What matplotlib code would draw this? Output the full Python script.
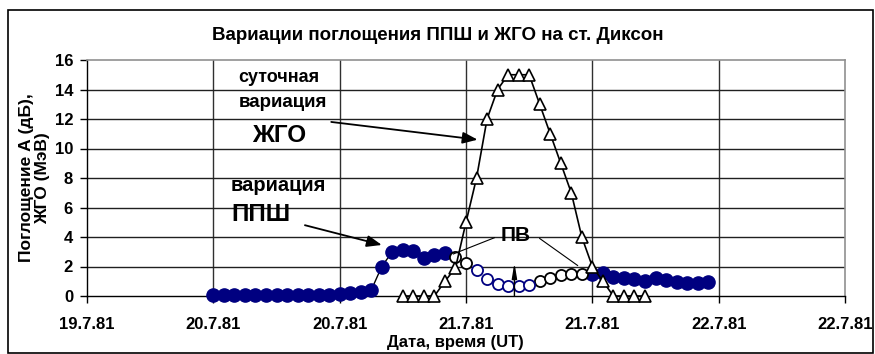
import numpy as np
import matplotlib
matplotlib.use('Agg')
import matplotlib.pyplot as plt
from matplotlib.patches import Rectangle

plt.rcParams['font.family'] = ['Liberation Sans', 'DejaVu Sans']
plt.rcParams['font.weight'] = 'bold'

# x = hours since 19.7.81 12:00 UT
tick_hours = [0, 12, 24, 36, 48, 60, 72]
tick_labels = ['19.7.81', '20.7.81', '20.7.81', '21.7.81', '21.7.81', '22.7.81', '22.7.81']

# absorption (ППШ), filled points
ppsh_hours_1 = list(range(12, 35))
ppsh_vals_1 = [0.1, 0.1, 0.1, 0.1, 0.1, 0.1, 0.1, 0.1, 0.1, 0.1, 0.1, 0.1, 0.15,
               0.2, 0.3, 0.4, 2.0, 3.0, 3.1, 3.05, 2.55, 2.8, 2.9]
ppsh_hours_2 = list(range(48, 60))
ppsh_vals_2 = [1.5, 1.55, 1.3, 1.25, 1.15, 1.05, 1.2, 1.1, 0.95, 0.85, 0.9, 0.95]

# absorption during ПВ, open points
pv_black_hours = [35, 36, 43, 44, 45, 46, 47]
pv_black_vals = [2.65, 2.25, 1.05, 1.25, 1.4, 1.5, 1.5]
pv_blue_hours = [37, 38, 39, 40, 41, 42]
pv_blue_vals = [1.75, 1.15, 0.8, 0.65, 0.65, 0.75]

# daily variation of ЖГО
zgo_hours = list(range(30, 54))
zgo_vals = [0, 0, 0, 0, 1.0, 1.9, 5.0, 8.0, 12.0, 14.0, 15.0, 15.0, 15.0,
            13.0, 11.0, 9.0, 7.0, 4.0, 2.0, 1.0, 0, 0, 0, 0]

navy = '#000080'

fig = plt.figure(figsize=(8.75, 3.54), dpi=100)
ax = fig.add_axes([87 / 875, 1 - 296 / 354, (845 - 87) / 875, (296 - 60) / 354])

fig.patches.append(Rectangle((8 / 875, 1 / 354), 865 / 875, 343 / 354,
                             transform=fig.transFigure, fill=False,
                             edgecolor='black', linewidth=1.2))

ax.set_xlim(0, 72)
ax.set_ylim(0, 16)
ax.set_xticks(tick_hours)
ax.set_xticklabels(tick_labels)
ax.set_yticks(range(0, 17, 2))

for h in tick_hours[1:-1]:
    ax.axvline(h, color='#303030', linewidth=1, zorder=1)
for v in range(2, 16, 2):
    ax.axhline(v, color='#202020', linewidth=1, zorder=1)

for s in ['top', 'right']:
    ax.spines[s].set_color('#909090')
    ax.spines[s].set_linewidth(1.2)
for s in ['left', 'bottom']:
    ax.spines[s].set_linewidth(1)

ax.tick_params(axis='both', direction='out', length=5, width=1, labelsize=12)
ax.tick_params(axis='y', pad=5)
ax.tick_params(axis='x', pad=10)

ax.plot(ppsh_hours_1, ppsh_vals_1, color='black', linewidth=1, marker='o', ms=9.5,
        mfc=navy, mec=navy, zorder=3, clip_on=False)
ax.plot(ppsh_hours_2, ppsh_vals_2, color='black', linewidth=1, marker='o', ms=9.5,
        mfc=navy, mec=navy, zorder=3, clip_on=False)
ax.plot(pv_black_hours, pv_black_vals, linestyle='none', marker='o', ms=8,
        mfc='white', mec='black', mew=1.3, zorder=3)
ax.plot(pv_blue_hours, pv_blue_vals, linestyle='none', marker='o', ms=8,
        mfc='white', mec=navy, mew=1.3, zorder=3)
ax.plot(zgo_hours, zgo_vals, color='black', linewidth=1.2, marker='^', ms=9,
        mfc='white', mec='black', mew=1.2, zorder=4, clip_on=False)

fig.text(0.5, 1 - 36 / 354, 'Вариации поглощения ППШ и ЖГО на ст. Диксон',
         fontsize=13.5, fontweight='bold', ha='center', va='center')
ax.set_xlabel('Дата, время (UT)', fontsize=12, fontweight='bold', labelpad=2)
ax.xaxis.label.set_x((455 - 87) / 758)
ax.set_ylabel('Поглощение А (дБ),\nЖГО (МэВ)', fontsize=12.5, fontweight='bold',
              labelpad=3, linespacing=1.15)

ax.text(18.2, 14.8, 'суточная', fontsize=13, ha='center', va='center', zorder=5)
ax.text(18.6, 13.1, 'вариация', fontsize=13.5, ha='center', va='center', zorder=5)
ax.text(18.3, 10.9, 'ЖГО', fontsize=17.5, ha='center', va='center', zorder=5)
ax.text(18.2, 7.5, 'вариация', fontsize=14.5, ha='center', va='center', zorder=5)
ax.text(13.75, 5.5, 'ППШ', fontsize=17.5, ha='left', va='center', zorder=5)
ax.text(40.7, 4.1, 'ПВ', fontsize=15, ha='center', va='center', zorder=5)

arrow = dict(arrowstyle='-|>,head_length=0.9,head_width=0.35', color='black', lw=1.3,
             shrinkA=0, shrinkB=0)
ax.annotate('', xy=(37.1, 10.6), xytext=(23.2, 11.8), arrowprops=arrow, zorder=5)
ax.annotate('', xy=(28.0, 3.46), xytext=(20.7, 4.8), arrowprops=arrow, zorder=5)
ax.annotate('', xy=(40.6, 2.25), xytext=(40.6, 0),
            arrowprops=dict(arrowstyle='-|>,head_length=0.9,head_width=0.15',
                            color='black', lw=1, shrinkA=0, shrinkB=0), zorder=5)

ax.plot([38.7, 34.8], [3.95, 2.85], color='black', linewidth=0.8, zorder=5)
ax.plot([43.0, 46.6], [3.9, 2.07], color='black', linewidth=0.8, zorder=5)

fig.savefig('out.png', dpi=100)
